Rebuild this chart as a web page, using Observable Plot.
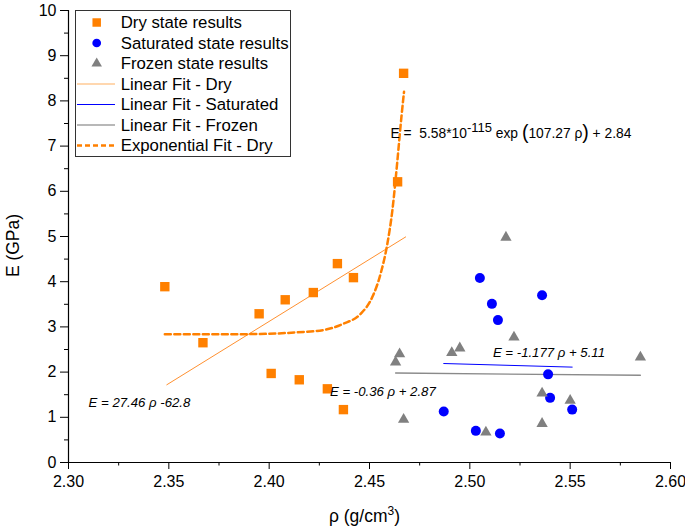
<!DOCTYPE html>
<html><head><meta charset="utf-8">
<script src="https://cdn.jsdelivr.net/npm/d3@7"></script>
<script src="https://cdn.jsdelivr.net/npm/@observablehq/plot@0.6"></script>
<style>
body{margin:0;background:#fff;}
#chart{width:685px;height:526px;}
</style></head><body><div id="chart"></div>
<script>
// ---- data ----
const dryRho = [2.348, 2.367, 2.395, 2.408, 2.422, 2.434, 2.442, 2.401, 2.415, 2.429, 2.437, 2.464, 2.467];
const dryE   = [3.89, 2.65, 3.29, 3.60, 3.76, 4.40, 4.09, 1.97, 1.83, 1.63, 1.17, 6.21, 8.61];

const satRho = [2.505, 2.536, 2.511, 2.514, 2.539, 2.540, 2.551, 2.487, 2.503, 2.515];
const satE   = [4.08, 3.70, 3.51, 3.15, 1.95, 1.43, 1.17, 1.13, 0.70, 0.64];

const frozenRho = [2.518, 2.522, 2.495, 2.491, 2.465, 2.463, 2.585, 2.536, 2.550, 2.467, 2.536, 2.508];
const frozenE   = [4.98, 2.77, 2.53, 2.43, 2.40, 2.22, 2.33, 1.53, 1.37, 0.95, 0.86, 0.67];

// fitted lines (end points)
const fitDryRho = [2.349, 2.468];    const fitDryE = [1.72, 4.99];
const fitSatRho = [2.487, 2.551];    const fitSatE = [2.19, 2.11];
const fitFrozenRho = [2.463, 2.585]; const fitFrozenE = [1.98, 1.93];
// exponential fit curve
const expRho = [2.348, 2.389, 2.414, 2.427, 2.437, 2.4456, 2.4514, 2.4555, 2.4589, 2.4614, 2.4639, 2.4659, 2.4672];
const expE   = [2.84, 2.84, 2.88, 2.93, 3.07, 3.29, 3.66, 4.17, 4.84, 5.58, 6.68, 7.64, 8.20];

// tick values
const xMajor = [2.30, 2.35, 2.40, 2.45, 2.50, 2.55, 2.60];
const xMinor = [2.325, 2.375, 2.425, 2.475, 2.525, 2.575];
const yMajor = [0, 1, 2, 3, 4, 5, 6, 7, 8, 9, 10];
const yMinor = [0.5, 1.5, 2.5, 3.5, 4.5, 5.5, 6.5, 7.5, 8.5, 9.5];

// texts
const xLabel = "ρ (g/cm3)";
const yLabel = "E (GPa)";
const eqTexts = ["E = 27.46 ρ -62.8", "E = -0.36 ρ + 2.87", "E = -1.177 ρ + 5.11"];
const eqRho = [2.310, 2.4303, 2.5115];
const eqE = [1.33, 1.57, 2.42];
const expEqText = "E =  5.58*10-115 exp (107.27 ρ) + 2.84";
const expEqRho = [2.4605];
const expEqE = [7.27];
const legendLabels = ["Dry state results", "Saturated state results", "Frozen state results",
  "Linear Fit - Dry", "Linear Fit - Saturated", "Linear Fit - Frozen", "Exponential Fit - Dry"];

const ORANGE = "#FF8000", BLUE = "#0000FF", GRAY = "#808080";
const zip = (xs, ys) => xs.map((x, i) => ({x, y: ys[i]}));
const FONT = "'Liberation Sans', Arial, sans-serif";

const plot = Plot.plot({
  width: 685, height: 526,
  marginLeft: 68, marginRight: 15, marginTop: 10, marginBottom: 64,
  style: {fontFamily: FONT, fontSize: "16px", background: "#fff", color: "#000"},
  x: {domain: [2.3, 2.6]},
  y: {domain: [0, 10]},
  marks: [
    Plot.axisX({ticks: xMajor, tickSize: 7, tickPadding: 6, tickFormat: d3.format(".2f"), fontSize: 16, label: null}),
    Plot.axisX({ticks: xMinor, tickSize: 3.5, tickFormat: () => "", label: null}),
    Plot.axisY({ticks: yMajor, tickSize: 8, tickPadding: 4, tickFormat: d3.format("d"), fontSize: 16, label: null}),
    Plot.axisY({ticks: yMinor, tickSize: 4, tickFormat: () => "", label: null}),
    Plot.ruleX([2.3], {stroke: "#000", strokeWidth: 1.2}),
    Plot.ruleY([0], {stroke: "#000", strokeWidth: 1.2}),
    Plot.line(zip(fitDryRho, fitDryE), {x: "x", y: "y", stroke: "#FF9030", strokeWidth: 1}),
    Plot.line(zip(fitSatRho, fitSatE), {x: "x", y: "y", stroke: BLUE, strokeWidth: 1}),
    Plot.line(zip(fitFrozenRho, fitFrozenE), {x: "x", y: "y", stroke: "#8a8a8a", strokeWidth: 1.3}),
    Plot.line(zip(expRho, expE), {x: "x", y: "y", stroke: ORANGE, strokeWidth: 2.5, strokeDasharray: "6,3.5", curve: "monotone-x"}),
    Plot.dot(zip(dryRho, dryE), {x: "x", y: "y", symbol: "square", r: 5.3, fill: ORANGE, stroke: "none"}),
    Plot.dot(zip(satRho, satE), {x: "x", y: "y", symbol: "circle", r: 5, fill: BLUE, stroke: "none"}),
    Plot.dot(zip(frozenRho, frozenE), {x: "x", y: "y", symbol: "triangle", r: 4.2, fill: GRAY, stroke: "none"}),
    Plot.text(eqTexts.map((t, i) => ({t, x: eqRho[i], y: eqE[i]})), {x: "x", y: "y", text: "t", textAnchor: "start", fontSize: 13.2, fontStyle: "italic", fill: "#000"}),
    Plot.text(expEqRho.map((x, i) => ({x, y: expEqE[i]})), {x: "x", y: "y", text: () => expEqText, textAnchor: "start", fontSize: 13.8, fill: "#000"}),
    Plot.text([xLabel], {text: d => d, frameAnchor: "bottom", textAnchor: "middle", lineAnchor: "middle", dy: 54, dx: -5, fontSize: 17.5}),
    Plot.text([yLabel], {text: d => d, frameAnchor: "left", textAnchor: "middle", lineAnchor: "middle", rotate: -90, dx: -55, dy: 9, fontSize: 17.5})
  ]
});
document.getElementById("chart").appendChild(plot);

// superscripts (post-processing text content)
const svg = d3.select(plot.tagName.toLowerCase() === "svg" ? plot : plot.querySelector("svg"));
const byText = s => svg.selectAll("text").filter(function () { return this.textContent === s; });

const xl = byText(xLabel);
xl.text(null);
xl.append("tspan").text("ρ (g/cm");
xl.append("tspan").attr("dy", "-7").attr("font-size", 12).text("3");
xl.append("tspan").attr("dy", "7").text(")");

const ef = byText(expEqText);
ef.text(null);
ef.append("tspan").text("E =  5.58*10");
ef.append("tspan").attr("dy", "-6").attr("font-size", 13).text("-115");
ef.append("tspan").attr("dy", "6").text(" exp ");
ef.append("tspan").attr("font-size", 19.5).attr("dy", "1").text("(");
ef.append("tspan").attr("dy", "-1").text("107.27 ρ");
ef.append("tspan").attr("font-size", 19.5).attr("dy", "1").text(")");
ef.append("tspan").attr("dy", "-1").text(" + 2.84");

// legend
const lg = svg.append("g").attr("font-family", FONT).attr("font-size", 16.8).attr("text-anchor", "start");
lg.append("rect").attr("x", 75.5).attr("y", 10.5).attr("width", 215).attr("height", 146)
  .attr("fill", "#fff").attr("stroke", "#333").attr("stroke-width", 1);
const rowY = i => 22.5 + i * 20.5;
const sx = 96.7;
lg.append("path").attr("d", d3.symbol(d3.symbolSquare, 72)()).attr("transform", `translate(${sx},${rowY(0)})`).attr("fill", ORANGE);
lg.append("path").attr("d", d3.symbol(d3.symbolCircle, 60)()).attr("transform", `translate(${sx},${rowY(1)})`).attr("fill", BLUE);
lg.append("path").attr("d", d3.symbol(d3.symbolTriangle, 48)()).attr("transform", `translate(${sx},${rowY(2)})`).attr("fill", GRAY);
const lineStyles = [
  {stroke: "#FFB060", w: 1.2, dash: null},
  {stroke: BLUE, w: 1, dash: null},
  {stroke: "#a0a0a0", w: 1.3, dash: null},
  {stroke: ORANGE, w: 2.5, dash: "5,3"}
];
lineStyles.forEach((s, k) => {
  const y = rowY(3 + k);
  const l = lg.append("line").attr("x1", 77).attr("x2", 115).attr("y1", y).attr("y2", y)
    .attr("stroke", s.stroke).attr("stroke-width", s.w);
  if (s.dash) l.attr("stroke-dasharray", s.dash);
});
legendLabels.forEach((t, i) => {
  lg.append("text").attr("x", 120.7).attr("y", rowY(i)).attr("dy", "0.35em").attr("fill", "#000")
    .attr("text-anchor", "start").text(t);
});
</script></body></html>
